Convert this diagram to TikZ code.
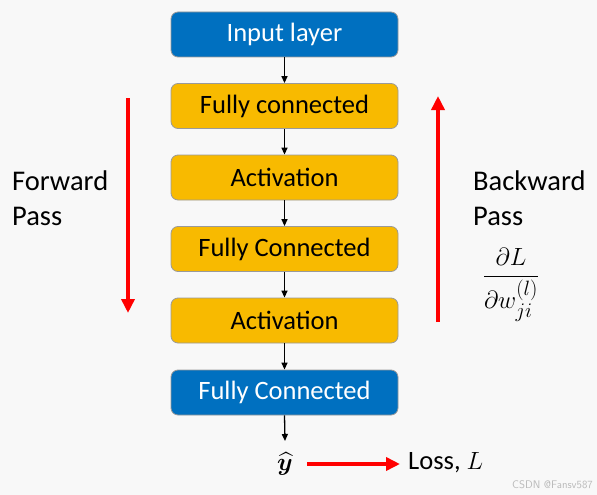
\documentclass[tikz,border=0pt]{standalone}
\usepackage{fontspec}
\usepackage{amsmath,bm}
\setmainfont{Carlito}
\usetikzlibrary{arrows.meta}
\definecolor{bg}{HTML}{F8F8F8}
\definecolor{bluebox}{HTML}{0070C0}
\definecolor{yellowbox}{HTML}{F8BA00}
\definecolor{boxborder}{HTML}{9A9A9A}
\definecolor{redarrow}{HTML}{FF0000}
\begin{document}
\begin{tikzpicture}[x=1pt,y=-1pt,
  layerbox/.style={draw=boxborder,line width=0.8pt,rounded corners=7pt,minimum width=227pt,minimum height=45pt,font=\fontsize{26.5}{30}\selectfont,inner sep=0pt},
  bluelayer/.style={layerbox,fill=bluebox,text=white},
  yellowlayer/.style={layerbox,fill=yellowbox,text=black},
  flow/.style={-{Triangle[width=6pt,length=7pt]},line width=1.3pt,black},
  passarrow/.style={-{Triangle[width=13pt,length=14pt]},line width=3.5pt,redarrow},
  sidetext/.style={font=\fontsize{28.5}{35}\selectfont,align=left,inner sep=0pt}]
\fill[bg] (0,0) rectangle (597,495);
\useasboundingbox (0,0) rectangle (597,495);
\node[bluelayer] (inp) at (284.5,34.5) {Input layer};
\node[yellowlayer] (fc1) at (284.5,106) {Fully connected};
\node[yellowlayer] (act1) at (284.5,177.5) {Activation};
\node[yellowlayer] (fc2) at (284.5,249) {Fully Connected};
\node[yellowlayer] (act2) at (284.5,320.5) {Activation};
\node[bluelayer] (fc3) at (284.5,392.5) {Fully Connected};
\node[inner sep=0pt,font=\fontsize{27}{30}\selectfont] (yhat) at (285,464) {$\widehat{\bm{y}}$};
\node[anchor=west,inner sep=0pt,font=\fontsize{26.5}{30}\selectfont] (loss) at (408,463) {Loss, $L$};
\draw[flow] (inp) -- (fc1);
\draw[flow] (fc1) -- (act1);
\draw[flow] (act1) -- (fc2);
\draw[flow] (fc2) -- (act2);
\draw[flow] (act2) -- (fc3);
\coordinate (yhattop) at (285,441);
\draw[flow] (fc3.south) -- (yhattop);
\coordinate (fwdtop) at (128,98);
\coordinate (fwdbot) at (128,313);
\coordinate (bwdbot) at (438,322);
\coordinate (bwdtop) at (438,96);
\coordinate (lossstart) at (307,464);
\coordinate (lossend) at (400,464);
\draw[passarrow] (fwdtop) -- (fwdbot);
\draw[passarrow] (bwdbot) -- (bwdtop);
\draw[passarrow] (lossstart) -- (lossend);
\node[sidetext,anchor=north west] (fwd) at (12,171) {Forward\\Pass};
\node[sidetext,anchor=north west] (bwd) at (473,171) {Backward\\Pass};
\node[inner sep=0pt,font=\fontsize{31}{34}\selectfont] (grad) at (511,285) {$\displaystyle\frac{\partial L}{\partial w_{ji}^{(l)}}$};
\node[anchor=south east,inner sep=2pt,text=gray!55,font=\sffamily\fontsize{11}{12}\selectfont] (wm) at (595,491) {CSDN @Fansv587};
\end{tikzpicture}
\end{document}
